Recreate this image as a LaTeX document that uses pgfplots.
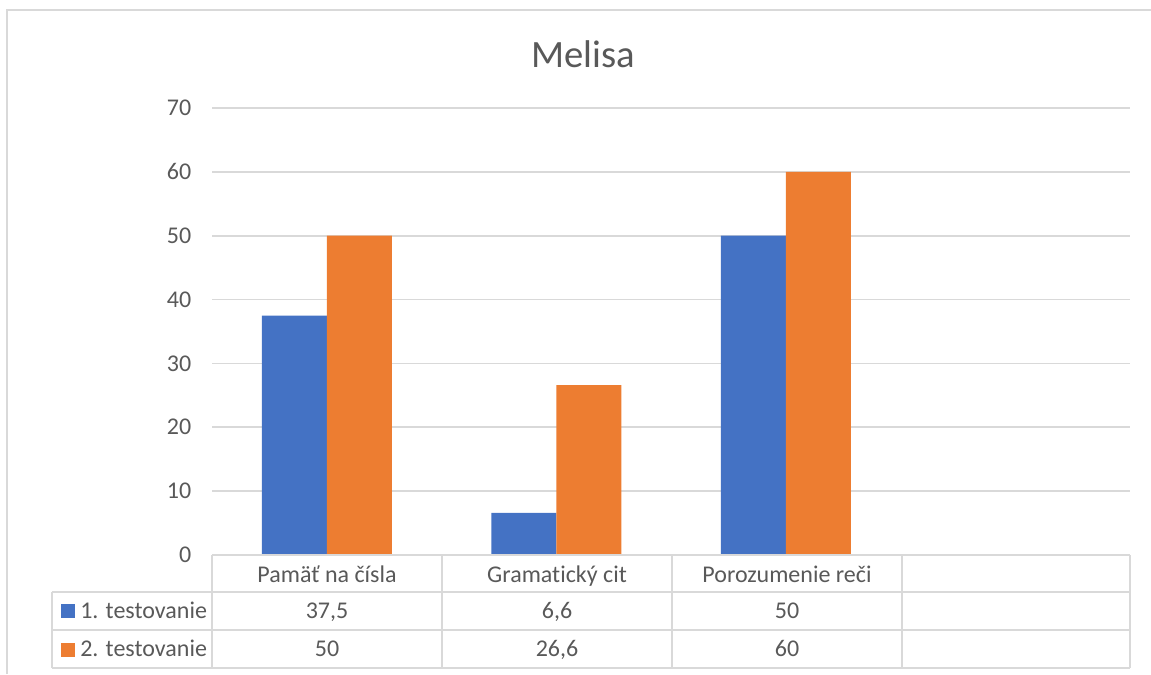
\documentclass[border=0pt]{standalone}
\usepackage{fontspec}
\setmainfont[Ligatures=NoCommon]{Carlito}
\usepackage{pgfplots}
\pgfplotsset{compat=1.18}
\definecolor{cblue}{HTML}{4472C4}
\definecolor{corange}{HTML}{ED7D31}
\definecolor{gridc}{HTML}{D9D9D9}
\definecolor{txt}{HTML}{595959}
\begin{document}
\begin{tikzpicture}
\begin{scope}[x=0.75pt,y=-0.75pt]
\path[use as bounding box] (0,0) rectangle (1151,674);
\draw[gridc, line width=1.5pt] (7,674) -- (7,10) -- (1151,10);
\node[text=txt, font=\fontsize{29}{29}\selectfont] at (583,54) {Melisa};
\end{scope}
\begin{axis}[at={(159pt,-416.25pt)}, anchor=south west,
  scale only axis, width=688.5pt, height=335.25pt,
  xmin=-0.5, xmax=3.5, ymin=0, ymax=70,
  ytick={0,10,...,70}, xtick=\empty,
  axis line style={draw=none},
  ymajorgrids, grid style={gridc, line width=1.2pt},
  major tick length=0pt,
  /pgf/number format/assume math mode=true,
  yticklabel style={font=\fontsize{18}{18}\selectfont, text=txt, xshift=-12pt},
  ybar=0pt, bar width=48.75pt,
  clip=false]
\addplot[fill=cblue, draw=none] coordinates {(0,37.5) (1,6.6) (2,50)};
\addplot[fill=corange, draw=none] coordinates {(0,50) (1,26.6) (2,60)};
\end{axis}
\begin{scope}[x=0.75pt,y=-0.75pt]
\draw[gridc, line width=1.2pt] (212,555) -- (1130,555);
\foreach \yy in {592,630,668} \draw[gridc, line width=1.2pt] (52,\yy) -- (1130,\yy);
\draw[gridc, line width=1.2pt] (52,592) -- (52,668);
\foreach \xx in {212,442,672,902,1130} \draw[gridc, line width=1.2pt] (\xx,555) -- (\xx,668);
\fill[cblue] (61,604) rectangle (75,618);
\fill[corange] (61,643) rectangle (75,657);
\begin{scope}[every node/.style={text=txt, font=\fontsize{18}{18}\selectfont, inner sep=0pt}]
\node[anchor=base west] at (80,618) {1. testovanie};
\node[anchor=base west] at (80,656) {2. testovanie};
\node[anchor=base] at (327,582) {Pamäť na čísla};
\node[anchor=base] at (557,582) {Gramatický cit};
\node[anchor=base] at (787,582) {Porozumenie reči};
\node[anchor=base] at (327,618) {37,5};
\node[anchor=base] at (557,618) {6,6};
\node[anchor=base] at (787,618) {50};
\node[anchor=base] at (327,656) {50};
\node[anchor=base] at (557,656) {26,6};
\node[anchor=base] at (787,656) {60};
\end{scope}
\end{scope}
\end{tikzpicture}
\end{document}
